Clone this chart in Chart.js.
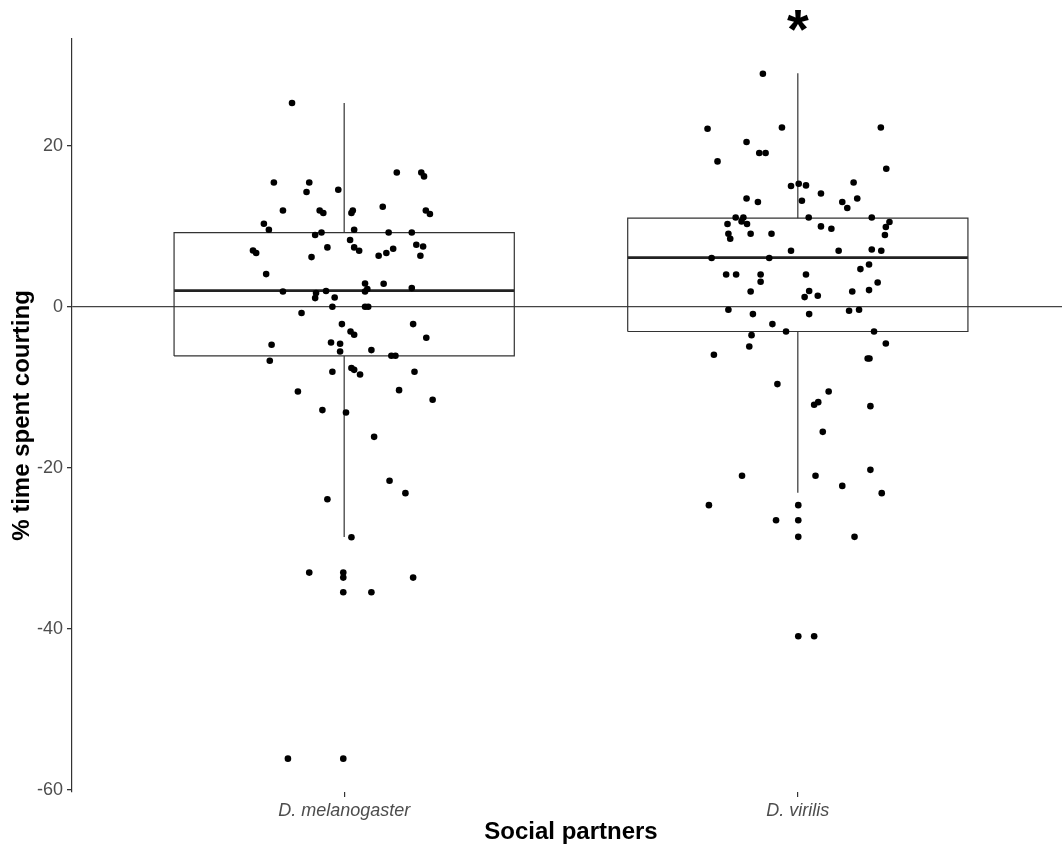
<!DOCTYPE html>
<html>
<head>
<meta charset="utf-8">
<script src="https://cdn.jsdelivr.net/npm/chart.js@4/dist/chart.umd.min.js"></script>
<style>
  html, body { margin: 0; padding: 0; background: #fff; overflow: hidden; }
  #wrap { width: 1062px; height: 849px; overflow: hidden; }
</style>
</head>
<body>
<div id="wrap"><canvas id="courtChart" width="1074" height="849"></canvas></div>
<script>
const categories = ['D. melanogaster', 'D. virilis'];
const yTicks = [20, 0, -20, -40, -60];

// box stats: lower whisker, q1, median, q3, upper whisker
const melBox = [-28.6, -6.1, 2.0, 9.2, 25.3];
const virBox = [-23.1, -3.07, 6.1, 11.0, 29.0];

// jittered points, D. melanogaster
const melX = [0.885, 0.845, 0.923, 0.917, 0.987, 1.116, 1.170, 1.176, 0.865, 0.946, 0.954, 1.019, 1.016, 1.085, 1.180,
  1.189, 0.823, 0.834, 0.936, 0.950, 1.022, 1.098, 1.149, 1.013, 0.799, 0.806, 0.963, 1.022, 1.033, 1.108, 1.159,
  1.174, 0.928, 1.076, 1.093, 1.168, 0.828, 0.865, 0.938, 0.936, 0.960, 0.979, 1.046, 1.051, 1.046, 1.087, 1.149,
  0.974, 1.046, 1.053, 0.906, 0.995, 1.014, 1.022, 1.152, 1.181, 0.840, 0.971, 0.991, 0.991, 1.060, 1.104, 1.113,
  0.836, 0.974, 1.016, 1.022, 1.035, 1.155, 0.898, 1.121, 1.195, 0.952, 1.004, 1.066, 1.100, 1.135, 0.963, 1.016,
  0.923, 0.998, 0.998, 1.152, 0.998, 1.060, 0.876, 0.998];
const melY = [25.30, 15.44, 15.44, 14.25, 14.53, 16.68, 16.68, 16.19, 11.96, 11.96, 11.64, 11.96, 11.64, 12.42, 11.96,
  11.52, 10.31, 9.57, 8.91, 9.23, 9.57, 9.23, 9.23, 8.29, 6.99, 6.67, 7.37, 7.37, 6.96, 7.20, 7.70,
  7.49, 6.17, 6.34, 6.67, 6.34, 4.06, 1.90, 1.70, 1.08, 1.95, 1.16, 2.89, 2.20, 1.90, 2.86, 2.32,
  0.00, 0.00, 0.00, -0.78, -2.15, -3.07, -3.48, -2.15, -3.85, -4.72, -4.43, -4.60, -5.55, -5.38, -6.09, -6.09,
  -6.71, -8.07, -7.61, -7.83, -8.41, -8.07, -10.52, -10.35, -11.55, -12.83, -13.13, -16.15, -21.61, -23.14, -23.89, -28.61,
  -33.01, -33.01, -33.63, -33.63, -35.44, -35.44, -56.11, -56.11];

// jittered points, D. virilis
const virX = [1.923, 1.801, 1.965, 2.183, 1.887, 1.915, 1.929, 1.823, 2.195, 1.985, 2.002, 2.018, 2.051, 2.123, 1.887,
  1.912, 2.009, 2.098, 2.109, 2.131, 1.863, 1.880, 2.024, 2.163, 1.845, 1.876, 1.888, 2.051, 2.074, 2.202, 2.194,
  1.847, 1.851, 1.896, 1.942, 2.192, 1.985, 2.090, 2.163, 2.184, 1.810, 1.937, 2.138, 2.157, 1.842, 1.864, 1.918,
  1.918, 2.018, 2.176, 1.896, 2.025, 2.015, 2.044, 2.120, 2.157, 1.847, 1.901, 2.025, 2.113, 2.135, 1.944, 1.974,
  2.168, 1.898, 1.893, 1.815, 2.194, 2.154, 2.158, 1.955, 2.068, 2.036, 2.045, 2.160, 2.055, 1.877, 2.039, 2.160,
  2.098, 2.185, 1.804, 2.001, 1.952, 2.001, 2.001, 2.125, 2.001, 2.036];
const virY = [28.94, 22.11, 22.27, 22.27, 20.46, 19.09, 19.09, 18.05, 17.14, 14.99, 15.28, 15.07, 14.07, 15.44, 13.45,
  13.01, 13.17, 13.01, 12.26, 13.45, 11.09, 11.09, 11.09, 11.09, 10.27, 10.60, 10.27, 9.98, 9.69, 10.52, 9.90,
  9.07, 8.45, 9.07, 9.07, 8.91, 6.96, 6.96, 7.12, 6.96, 6.05, 6.05, 4.68, 5.25, 4.01, 4.01, 4.01,
  3.11, 4.01, 3.02, 1.90, 1.95, 1.20, 1.37, 1.90, 2.07, -0.37, -0.91, -0.91, -0.50, -0.37, -2.15, -3.07,
  -3.07, -3.52, -4.93, -5.96, -4.56, -6.42, -6.42, -9.60, -10.52, -12.17, -11.84, -12.34, -15.53, -20.99, -20.99, -20.25,
  -22.24, -23.14, -24.63, -24.63, -26.50, -26.50, -28.57, -28.57, -40.91, -40.91];

const sigMark = { label: '*', cat: 2, y: 35.6 };

const boxHalf = 0.375;
const fontFamily = "'Liberation Sans', Arial, sans-serif";

function pts(xs, ys) {
  return xs.map((x, i) => ({ x: x, y: ys[i] }));
}

function boxDatasets(c, s) {
  const line = { type: 'line', showLine: true, fill: false, pointRadius: 0, borderColor: '#333',
    borderWidth: 1.2, tension: 0 };
  return [
    Object.assign({}, line, { data: [{x: c - boxHalf, y: s[1]}, {x: c + boxHalf, y: s[1]}, {x: c + boxHalf, y: s[3]},
      {x: c - boxHalf, y: s[3]}, {x: c - boxHalf, y: s[1]}] }),
    Object.assign({}, line, { borderWidth: 2.6, borderColor: '#222',
      data: [{x: c - boxHalf, y: s[2]}, {x: c + boxHalf, y: s[2]}] }),
    Object.assign({}, line, { data: [{x: c, y: s[3]}, {x: c, y: s[4]}] }),
    Object.assign({}, line, { data: [{x: c, y: s[0]}, {x: c, y: s[1]}] })
  ];
}

const sigPlugin = {
  id: 'sigPlugin',
  afterDraw(chart) {
    const ctx = chart.ctx;
    const px = chart.scales.x.getPixelForValue(sigMark.cat);
    const py = chart.scales.y.getPixelForValue(sigMark.y);
    ctx.save();
    ctx.font = 'bold 56px ' + fontFamily;
    ctx.fillStyle = '#000';
    ctx.textAlign = 'center';
    ctx.textBaseline = 'alphabetic';
    const m = ctx.measureText(sigMark.label);
    ctx.fillText(sigMark.label, px, py - (m.actualBoundingBoxDescent - m.actualBoundingBoxAscent) / 2);
    ctx.restore();
  }
};

const ctx = document.getElementById('courtChart').getContext('2d');

new Chart(ctx, {
  type: 'scatter',
  data: {
    datasets: [
      { data: pts(melX, melY), pointRadius: 3.3, pointBackgroundColor: '#000', pointBorderWidth: 0, showLine: false },
      { data: pts(virX, virY), pointRadius: 3.3, pointBackgroundColor: '#000', pointBorderWidth: 0, showLine: false }
    ].concat(boxDatasets(1, melBox), boxDatasets(2, virBox))
  },
  options: {
    responsive: false,
    animation: false,
    layout: { padding: { top: 39, right: 0, left: 0, bottom: 0 } },
    plugins: {
      legend: { display: false },
      tooltip: { enabled: false }
    },
    scales: {
      x: {
        type: 'linear',
        min: 0.4,
        max: 2.6,
        afterBuildTicks: function (scale) {
          scale.ticks = categories.map((c, i) => ({ value: i + 1 }));
        },
        afterFit: function (scale) { scale.height = 57; },
        ticks: {
          color: '#4d4d4d',
          padding: 3,
          maxRotation: 0,
          font: { family: fontFamily, size: 18, style: 'italic' },
          callback: function (value) { return categories[value - 1]; }
        },
        grid: { drawOnChartArea: false, drawTicks: true, tickLength: 5, tickColor: '#333', lineWidth: 1.2 },
        border: { display: false },
        title: {
          display: true,
          text: 'Social partners',
          color: '#000',
          padding: { top: 0, bottom: 2 },
          font: { family: fontFamily, size: 24, weight: 'bold' }
        }
      },
      y: {
        min: -60.25,
        max: 33.25,
        afterBuildTicks: function (scale) {
          scale.ticks = yTicks.map(v => ({ value: v }));
        },
        afterFit: function (scale) { scale.width = 72; },
        ticks: {
          color: '#4d4d4d',
          padding: 4,
          font: { family: fontFamily, size: 18 }
        },
        grid: {
          drawTicks: true,
          tickLength: 5,
          tickColor: '#333',
          lineWidth: 1.3,
          color: function (c) { return c.tick && c.tick.value === 0 ? '#444' : 'rgba(0,0,0,0)'; }
        },
        border: { display: true, color: '#333', width: 1.2 },
        title: {
          display: true,
          text: '% time spent courting',
          color: '#000',
          padding: { top: 8, bottom: 0 },
          font: { family: fontFamily, size: 24, weight: 'bold' }
        }
      }
    }
  },
  plugins: [sigPlugin]
});
</script>
</body>
</html>
